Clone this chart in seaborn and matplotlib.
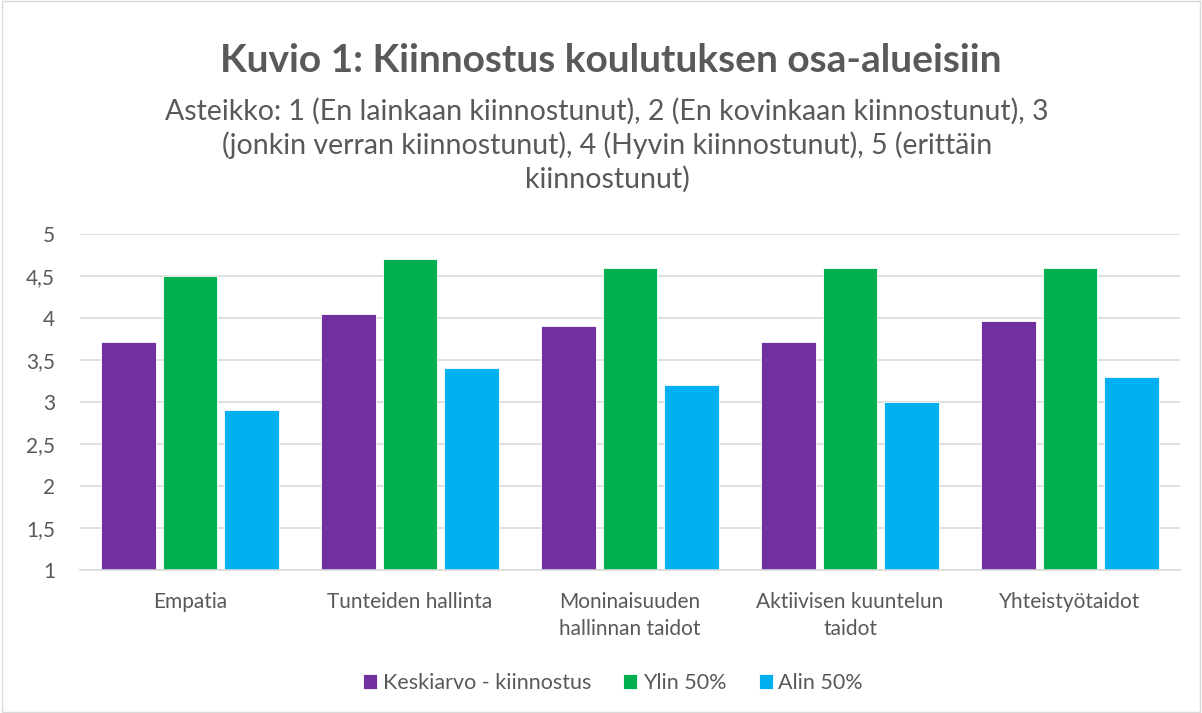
import numpy as np
import pandas as pd
import seaborn as sns
import matplotlib.pyplot as plt
from matplotlib.patches import Rectangle

# Data
categories = ['Empatia', 'Tunteiden hallinta', 'Moninaisuuden\nhallinnan taidot',
              'Aktiivisen kuuntelun\ntaidot', 'Yhteistyötaidot']
keskiarvo = [3.71, 4.05, 3.91, 3.71, 3.97]
ylin = [4.5, 4.7, 4.6, 4.6, 4.6]
alin = [2.9, 3.4, 3.2, 3.0, 3.3]
series_names = ['Keskiarvo - kiinnostus', 'Ylin 50%', 'Alin 50%']
colors = ['#7030A0', '#00B050', '#00B0F0']
yticks = [1, 1.5, 2, 2.5, 3, 3.5, 4, 4.5, 5]

df = pd.DataFrame({
    'Osa-alue': categories * 3,
    'Sarja': [s for s in series_names for _ in categories],
    'Arvo': keskiarvo + ylin + alin,
})

sns.set_theme(style='white')
plt.rcParams['font.family'] = ['Lato', 'DejaVu Sans']
text_col = '#595959'

fig = plt.figure(figsize=(12.02, 7.13), dpi=100)
ax = fig.add_axes([80 / 1202, 143 / 713, 1100 / 1202, 336 / 713])

sns.barplot(data=df, x='Osa-alue', y='Arvo', hue='Sarja', palette=colors,
            saturation=1, width=0.84, gap=0.12, ax=ax,
            edgecolor='white', linewidth=0.6)

ax.set_ylim(1, 5)
ax.set_yticks(yticks)
ax.set_yticklabels([f'{t:g}'.replace('.', ',') for t in yticks])
ax.yaxis.grid(True, color='#D9D9D9', linewidth=1.2)
ax.set_axisbelow(True)
for side in ['top', 'right', 'left']:
    ax.spines[side].set_visible(False)
ax.spines['bottom'].set_color('#D9D9D9')
ax.spines['bottom'].set_linewidth(1.2)
ax.tick_params(axis='both', length=0, labelsize=15, colors=text_col)
ax.tick_params(axis='x', pad=16)
ax.tick_params(axis='y', pad=18)
for lbl in ax.get_xticklabels():
    lbl.set_linespacing(1.4)
ax.set_xlabel('')
ax.set_ylabel('')

# legend at bottom
handles, labels = ax.get_legend_handles_labels()
ax.legend_.remove()
fig.legend(handles, labels, loc='center', bbox_to_anchor=(0.51, 30 / 713), ncol=3,
           frameon=False, fontsize=15.5, handlelength=0.65, handleheight=0.65,
           handletextpad=0.25, columnspacing=1.5, labelcolor=text_col)

# title and subtitle
fig.text(0.508, 1 - 60 / 713, 'Kuvio 1: Kiinnostus koulutuksen osa-alueisiin',
         ha='center', va='center', fontsize=28, fontweight='bold', color=text_col)
fig.text(0.505, 1 - 145 / 713,
         'Asteikko: 1 (En lainkaan kiinnostunut), 2 (En kovinkaan kiinnostunut), 3\n'
         '(jonkin verran kiinnostunut), 4 (Hyvin kiinnostunut), 5 (erittäin\n'
         'kiinnostunut)',
         ha='center', va='center', fontsize=20.5, color=text_col, linespacing=1.3)

# chart border
fig.patches.append(Rectangle((0.002, 0.002), 0.996, 0.996, transform=fig.transFigure,
                             fill=False, edgecolor='#D9D9D9', linewidth=1))

fig.savefig('out.png', dpi=100)
